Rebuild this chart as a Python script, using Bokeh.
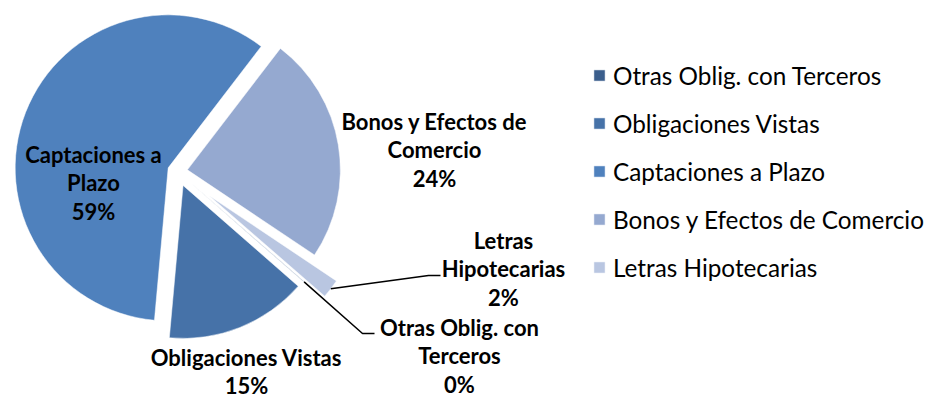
import math
from bokeh.plotting import figure
from bokeh.models import ColumnDataSource, Range1d, Legend, LegendItem
from bokeh.embed import file_html
from bokeh.resources import INLINE
from bokeh.core.properties import value

# ---------------- data ----------------
categories = ["Otras Oblig. con Terceros", "Obligaciones Vistas", "Captaciones a Plazo",
              "Bonos y Efectos de Comercio", "Letras Hipotecarias"]
values = [0.05, 15.0, 59.0, 24.0, 2.0]
label_lines = [["Otras Oblig. con", "Terceros"], ["Obligaciones Vistas"], ["Captaciones a", "Plazo"],
               ["Bonos y Efectos de", "Comercio"], ["Letras", "Hipotecarias"]]

# ---------------- style / layout ----------------
colors = ["#3B5E8C", "#4672A8", "#4F81BD", "#95A9D0", "#B9C6E1"]
W, H = 930, 400
CX, CY = 177, 171          # pie centre (pixels from top-left)
R = 153                    # radius in pixels
first_angle = 131.0        # clockwise from 12 o'clock
explode = [15, 15, 10, 10, 40]
label_pos = [(459, 355), (246, 371), (93, 182), (434, 149), (503, 268)]
line_h = 28.5
leaders = {0: [(362, 333), (374, 333)], 4: [(428, 275), (440, 275)]}
FONT = "Lato"

p = figure(width=W, height=H, output_backend="svg", toolbar_location=None,
           x_range=Range1d(0, W), y_range=Range1d(0, H),
           x_axis_location=None, y_axis_location=None, min_border=0)
p.outline_line_color = None
p.xgrid.visible = False
p.ygrid.visible = False
p.background_fill_color = "white"

total = sum(values)
xs, ys, starts, ends, mids = [], [], [], [], []
a = first_angle
for v, e in zip(values, explode):
    span = v / total * 360.0
    t1, t2 = a, a + span
    mid = math.radians((t1 + t2) / 2)
    xs.append(CX + e * math.sin(mid))
    ys.append((H - CY) + e * math.cos(mid))
    starts.append(math.radians(90 - t2))
    ends.append(math.radians(90 - t1))
    mids.append(mid)
    a = t2

src = ColumnDataSource(dict(x=xs, y=ys, start=starts, end=ends, color=colors, cat=categories))
r = p.wedge(x="x", y="y", radius=R, start_angle="start", end_angle="end", direction="anticlock",
            fill_color="color", line_color="white", line_width=0.5, source=src)

# leader lines
for i, pts in leaders.items():
    mid = mids[i]
    sx = CX + (R + explode[i]) * math.sin(mid)
    sy = (H - CY) + (R + explode[i]) * math.cos(mid)
    lx = [sx] + [q[0] for q in pts]
    ly = [sy] + [H - q[1] for q in pts]
    p.line(lx, ly, line_color="black", line_width=1.5)

# data labels
tx, ty, tt = [], [], []
for i, lines in enumerate(label_lines):
    pct = "%d%%" % round(values[i] / total * 100)
    all_lines = lines + [pct]
    n = len(all_lines)
    cx, cy = label_pos[i]
    for k, s in enumerate(all_lines):
        tx.append(cx)
        ty.append(H - (cy + (k - (n - 1) / 2) * line_h))
        tt.append(s)
p.text(x=tx, y=ty, text=tt, text_align="center", text_baseline="middle",
       text_font=value(FONT), text_font_style="bold", text_font_size="22px", text_color="black")

items = [LegendItem(label=c, renderers=[r], index=i) for i, c in enumerate(categories)]
legend = Legend(items=items, location=(592, 118), glyph_width=14, glyph_height=14,
                label_text_font=FONT, label_text_font_size="24.3px", label_text_color="black",
                label_height=30, spacing=18, padding=0, margin=0, label_standoff=7,
                border_line_color=None, background_fill_alpha=0)
p.add_layout(legend)

open("out.html", "w").write(file_html(p, INLINE))
